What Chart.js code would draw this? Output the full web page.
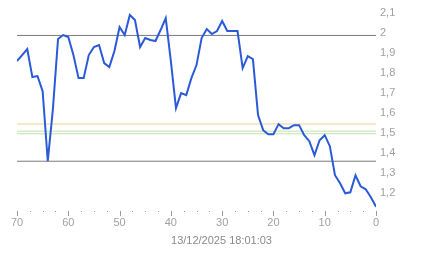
<!DOCTYPE html>
<html>
<head>
<meta charset="utf-8">
<script src="https://cdn.jsdelivr.net/npm/chart.js@4/dist/chart.umd.min.js"></script>
<style>
    html, body { margin: 0; padding: 0; background: #fff; }
    #wrap { width: 443px; height: 258px; }
</style>
</head>
<body>
<div id="wrap"><canvas id="myChart"></canvas></div>
<script>
Chart.defaults.font.family = 'Liberation Sans, Arial, sans-serif';
Chart.defaults.font.size = 11;
Chart.defaults.color = '#a0a0a0';

// x = seconds back from now (70 .. 0)
const ages = [70, 69, 68, 67, 66, 65, 64, 63, 62, 61, 60, 59, 58, 57, 56, 55, 54, 53, 52, 51,
    50, 49, 48, 47, 46, 45, 44, 43, 42, 41, 40, 39, 38, 37, 36, 35, 34, 33, 32, 31,
    30, 29, 28, 27, 26, 25, 24, 23, 22, 21, 20, 19, 18, 17, 16, 15, 14, 13, 12, 11,
    10, 9, 8, 7, 6, 5, 4, 3, 2, 1, 0];
const values = [1.86, 1.89, 1.92, 1.78, 1.785, 1.71, 1.36, 1.62, 1.97, 1.99, 1.98, 1.89, 1.775, 1.775, 1.89, 1.93, 1.94, 1.85, 1.83, 1.91,
    2.03, 1.99, 2.09, 2.065, 1.93, 1.975, 1.965, 1.96, 2.015, 2.075, 1.86, 1.625, 1.70, 1.69, 1.775, 1.84, 1.975, 2.02, 1.995, 2.01,
    2.06, 2.01, 2.01, 2.01, 1.825, 1.885, 1.87, 1.59, 1.515, 1.495, 1.495, 1.545, 1.525, 1.525, 1.54, 1.54, 1.49, 1.46, 1.39, 1.465,
    1.49, 1.435, 1.29, 1.25, 1.20, 1.205, 1.29, 1.235, 1.22, 1.18, 1.133];

// horizontal levels
const levelHighGray = 1.988;
const levelLowGray = 1.36;
const levelOrange = 1.546;
const levelGreen = [1.51, 1.497];

const xMin = 0, xMax = 70;
const yMin = 1.1, yMax = 2.1;
const timeLabel = '13/12/2025 18:01:03';

function levelLine(y, color) {
    return {
        data: [{ x: xMin, y: y }, { x: xMax, y: y }],
        borderColor: color,
        borderWidth: 1,
        pointRadius: 0,
        order: 2,
    };
}

// little tick marks under the plot: long for every 10, dots in between
const tickMarks = {
    id: 'tickMarks',
    afterDraw(chart) {
        const sx = chart.scales.x;
        const ctx = chart.ctx;
        const top = Math.round(chart.chartArea.bottom) - 2;
        ctx.save();
        ctx.fillStyle = '#999';
        sx.ticks.forEach((t) => {
            const px = Math.round(sx.getPixelForValue(t.value));
            const major = Math.abs(t.value % 10) < 1e-6;
            ctx.fillRect(px, top, 1, major ? 5 : 1);
        });
        ctx.restore();
    },
};

const myChart = new Chart(document.querySelector('#myChart'), {
    type: 'line',
    data: {
        datasets: [
            {
                data: ages.map((a, i) => ({ x: a, y: values[i] })),
                borderColor: '#2a5ad8',
                borderWidth: 2,
                pointRadius: 0,
                tension: 0,
                order: 1,
            },
            levelLine(levelHighGray, '#7a7a7a'),
            levelLine(levelLowGray, '#7a7a7a'),
            levelLine(levelOrange, '#f0d48a'),
            levelLine(levelGreen[0], '#bfe3ac'),
            levelLine(levelGreen[1], '#bfe3ac'),
        ],
    },
    options: {
        animation: false,
        responsive: true,
        maintainAspectRatio: false,
        layout: {
            padding: { left: 0, right: 0, top: 13, bottom: 0 },
        },
        plugins: {
            legend: { display: false },
            tooltip: { enabled: false },
            // date under the axis, centred on the whole canvas
            title: {
                display: true,
                position: 'bottom',
                text: timeLabel,
                color: '#8a8a8a',
                font: { size: 11, weight: 'normal' },
                padding: { top: 0, bottom: 10 },
            },
        },
        scales: {
            x: {
                type: 'linear',
                reverse: true,
                min: xMin,
                max: xMax,
                grid: { display: false, drawTicks: false },
                border: { display: false },
                ticks: {
                    stepSize: 2.5,
                    autoSkip: false,
                    maxRotation: 0,
                    padding: 3,
                    color: '#a0a0a0',
                    callback: (v) => (Math.abs(v % 10) < 1e-6 ? String(v) : ''),
                },
                afterFit: (scale) => { scale.height = 21.5; },
            },
            // empty strip on the left so the plot starts at 17px
            yLeft: {
                position: 'left',
                min: yMin,
                max: yMax,
                grid: { display: false, drawTicks: false },
                border: { display: false },
                ticks: { display: false },
                afterFit: (scale) => { scale.width = 17; },
            },
            y: {
                position: 'right',
                min: yMin,
                max: yMax,
                grid: { display: false, drawTicks: false },
                border: { display: false },
                ticks: {
                    stepSize: 0.1,
                    padding: 4,
                    color: '#a0a0a0',
                    callback: (v) => {
                        const r = Math.round(v * 10) / 10;
                        if (Math.abs(r - yMin) < 1e-6) return '';
                        return String(r).replace('.', ',');
                    },
                },
                afterFit: (scale) => { scale.width = 67; },
            },
        },
    },
    plugins: [tickMarks],
});
</script>
</body>
</html>
